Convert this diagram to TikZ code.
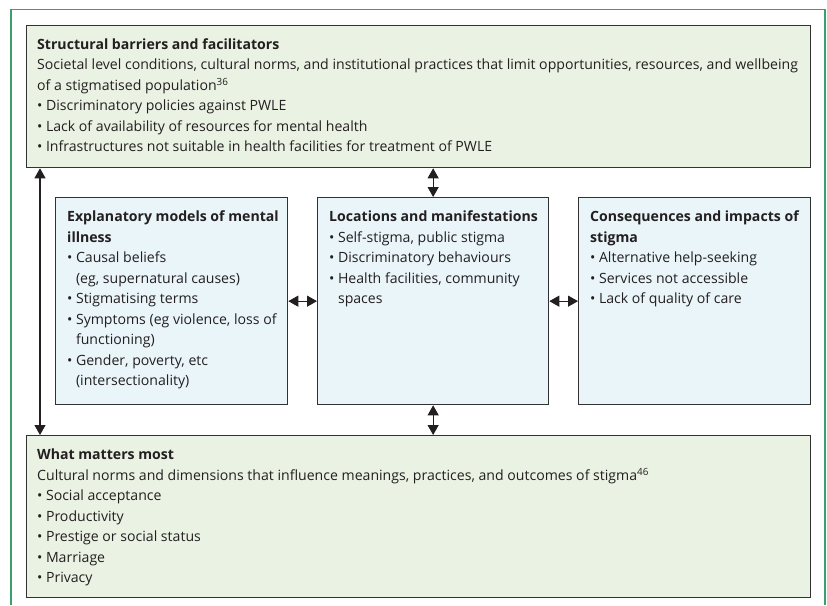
\documentclass[tikz,border=0pt]{standalone}
\usepackage{fontspec}
\setmainfont{Open Sans}
\usetikzlibrary{arrows.meta}

\definecolor{framegreen}{RGB}{60,160,110}
\definecolor{panelgreen}{RGB}{234,242,228}
\definecolor{panelblue}{RGB}{234,245,250}
\definecolor{edgegrey}{RGB}{50,50,50}
\definecolor{inkgrey}{RGB}{35,31,32}

\newcommand{\itm}{\textbullet\hspace{0.25em}}
\newcommand{\ind}{\phantom{\itm}}

\tikzset{
	panel/.style={draw=edgegrey, line width=1.3pt, anchor=north west, inner sep=0pt},
	outerpanel/.style={panel, fill=panelgreen, minimum width=784pt},
	innerpanel/.style={panel, fill=panelblue, minimum width=232pt, minimum height=207pt},
	paneltext/.style={anchor=north west, align=left, inner sep=0pt, text=inkgrey,
		font=\fontsize{14.1}{20.5}\selectfont},
	link/.style={{Triangle[width=11pt,length=10pt]}-{Triangle[width=11pt,length=10pt]}, line width=1.1pt, draw=inkgrey}
}

\begin{document}
\begin{tikzpicture}[x=1pt,y=-1pt]
	\useasboundingbox (0,0) rectangle (827,605);
	\draw [framegreen, line width=1.2pt] (11,605) -- (11,9.5) -- (825,9.5) -- (825,605);

	% top and bottom panels
	\node [outerpanel, minimum height=142pt] (sbf) at (26,25) {};
	\node [outerpanel, minimum height=162pt] (wmm) at (26,435) {};

	% middle panels
	\node [innerpanel] (emi) at (55,197) {};
	\node [innerpanel, minimum width=231pt] (loc) at (317,197) {};
	\node [innerpanel] (cis) at (578,197) {};

	\node [paneltext] (sbftext) at ([shift={(11,13.5)}]sbf.north west) {\textbf{Structural barriers and facilitators}\\
		Societal level conditions, cultural norms, and institutional practices that limit opportunities, resources, and wellbeing\\
		of a stigmatised population\textsuperscript{36}\\
		\itm Discriminatory policies against PWLE\\
		\itm Lack of availability of resources for mental health\\
		\itm Infrastructures not suitable in health facilities for treatment of PWLE};

	\node [paneltext] (emitext) at ([shift={(12,14)}]emi.north west) {\textbf{Explanatory models of mental}\\
		\textbf{illness}\\
		\itm Causal beliefs\\
		\ind(eg, supernatural causes)\\
		\itm Stigmatising terms\\
		\itm Symptoms (eg violence, loss of\\
		\ind functioning)\\
		\itm Gender, poverty, etc\\
		\ind(intersectionality)};

	\node [paneltext] (loctext) at ([shift={(12,14)}]loc.north west) {\textbf{Locations and manifestations}\\
		\itm Self-stigma, public stigma\\
		\itm Discriminatory behaviours\\
		\itm Health facilities, community\\
		\ind spaces};

	\node [paneltext] (cistext) at ([shift={(12,14)}]cis.north west) {\textbf{Consequences and impacts of}\\
		\textbf{stigma}\\
		\itm Alternative help-seeking\\
		\itm Services not accessible\\
		\itm Lack of quality of care};

	\node [paneltext] (wmmtext) at ([shift={(11,14)}]wmm.north west) {\textbf{What matters most}\\
		Cultural norms and dimensions that influence meanings, practices, and outcomes of stigma\textsuperscript{46}\\
		\itm Social acceptance\\
		\itm Productivity\\
		\itm Prestige or social status\\
		\itm Marriage\\
		\itm Privacy};

	% connectors
	\draw [link] ([xshift=14pt]sbf.south west) -- ([xshift=14pt]wmm.north west);
	\draw [link] (loc.north |- sbf.south) -- (loc.north);
	\draw [link] (loc.south) -- (loc.south |- wmm.north);
	\draw [link] (emi.east) -- (loc.west);
	\draw [link] (loc.east) -- (cis.west);
\end{tikzpicture}
\end{document}
